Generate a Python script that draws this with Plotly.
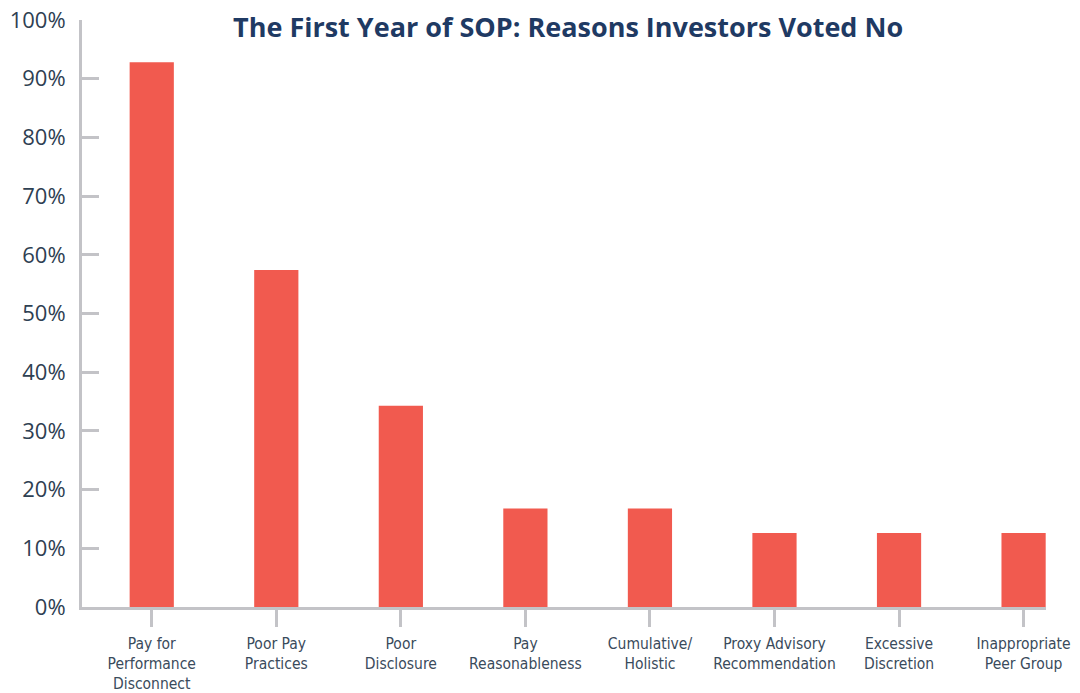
import plotly.graph_objects as go

categories = [
    "Pay for<br>Performance<br>Disconnect",
    "Poor Pay<br>Practices",
    "Poor<br>Disclosure",
    "Pay<br>Reasonableness",
    "Cumulative/<br>Holistic",
    "Proxy Advisory<br>Recommendation",
    "Excessive<br>Discretion",
    "Inappropriate<br>Peer Group",
]
values = [92.8, 57.4, 34.3, 16.8, 16.8, 12.6, 12.6, 12.6]
y_ticks = [0, 10, 20, 30, 40, 50, 60, 70, 80, 90, 100]
y_tick_labels = [f"{v}%" for v in y_ticks]

bar_color = "#f15a4f"
axis_color = "#c3c3c7"
text_color = "#2e4052"

fig = go.Figure(
    go.Bar(
        x=list(range(len(categories))),
        y=values,
        width=0.355,
        marker=dict(color=bar_color, line=dict(width=0)),
        hoverinfo="y",
    )
)

fig.update_layout(
    width=1080,
    height=693,
    margin=dict(l=82, r=34, t=20, b=86, autoexpand=False),
    paper_bgcolor="white",
    plot_bgcolor="white",
    showlegend=False,
    title=dict(
        text="<b>The First Year of SOP: Reasons Investors Voted No</b>",
        x=0.526,
        xanchor="center",
        y=0.96,
        yanchor="middle",
        font=dict(family="Open Sans, sans-serif", size=27, color="#1f3a63"),
    ),
    xaxis=dict(
        range=[-0.56, 7.18],
        tickmode="array",
        tickvals=list(range(len(categories))),
        ticktext=categories,
        showline=True,
        linecolor=axis_color,
        linewidth=3,
        ticks="outside",
        ticklen=17,
        tickwidth=3,
        tickcolor=axis_color,
        showgrid=False,
        zeroline=False,
        automargin=False,
        ticklabelstandoff=3,
        tickfont=dict(family="DejaVu Sans Condensed, Liberation Sans Narrow, sans-serif", size=15.5, color="#3a4b5c"),
        fixedrange=True,
    ),
    yaxis=dict(
        range=[0, 100],
        tickmode="array",
        tickvals=y_ticks,
        ticktext=y_tick_labels,
        showline=True,
        linecolor=axis_color,
        linewidth=3,
        ticks="inside",
        ticklen=17,
        tickwidth=3,
        tickcolor=axis_color,
        showgrid=False,
        zeroline=False,
        automargin=False,
        ticklabelstandoff=9,
        tickfont=dict(family="Open Sans, sans-serif", size=22, color=text_color),
        fixedrange=True,
    ),
)

fig.write_html("out.html")
